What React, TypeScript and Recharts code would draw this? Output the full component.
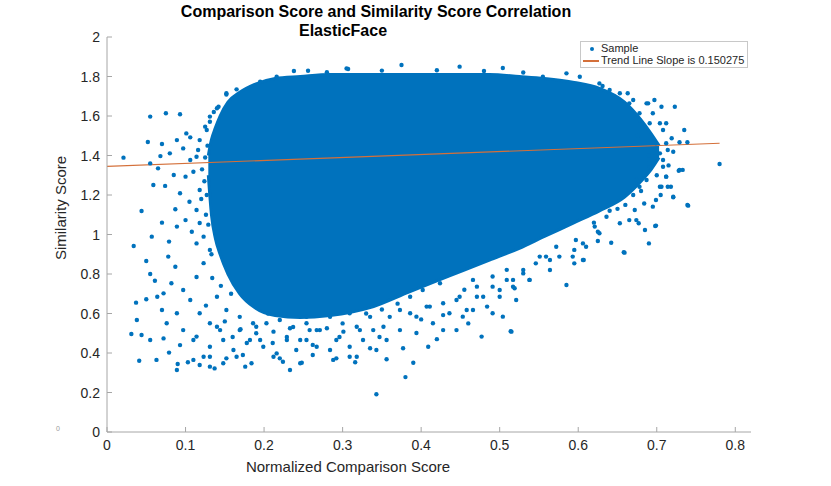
import { ComposedChart, Area, Scatter, Line, XAxis, YAxis } from 'recharts'

const blobX = [0.129, 0.133, 0.138, 0.144, 0.154, 0.169, 0.188, 0.214, 0.246, 0.284, 0.335, 0.385, 0.436, 0.487, 0.525, 0.557, 0.595, 0.627, 0.659, 0.68, 0.693, 0.703]
const blobLow = [1.3, 1.1, 0.98, 0.9, 0.8, 0.7, 0.63, 0.59, 0.58, 0.59, 0.63, 0.71, 0.79, 0.87, 0.93, 0.99, 1.06, 1.12, 1.19, 1.27, 1.33, 1.39]
const blobHigh = [1.4, 1.48, 1.54, 1.6, 1.67, 1.72, 1.76, 1.79, 1.8, 1.81, 1.81, 1.81, 1.81, 1.81, 1.8, 1.79, 1.77, 1.74, 1.67, 1.58, 1.51, 1.45]

const leftSamples: [number, number][] = [
  [0.021, 1.389], [0.055, 1.597], [0.075, 1.614], [0.093, 1.609], [0.052, 1.468], [0.07, 1.458],
  [0.089, 1.478], [0.055, 1.36], [0.065, 1.335], [0.068, 1.397], [0.08, 1.411], [0.059, 1.251],
  [0.074, 1.246], [0.085, 1.301], [0.044, 1.119], [0.07, 1.06], [0.057, 0.989], [0.034, 0.942],
  [0.079, 0.964], [0.089, 1.04], [0.087, 1.128], [0.093, 1.209], [0.101, 1.512], [0.106, 1.492],
  [0.097, 1.436], [0.106, 1.377], [0.1, 1.293], [0.11, 1.318], [0.105, 1.166], [0.1, 1.073],
  [0.114, 1.124], [0.108, 1.014], [0.118, 1.225], [0.116, 1.428], [0.127, 1.529], [0.131, 1.571],
  [0.14, 1.639], [0.152, 1.715], [0.165, 1.735], [0.118, 1.058], [0.123, 0.989], [0.114, 0.955],
  [0.152, 1.709], [0.142, 1.647], [0.131, 1.597], [0.125, 1.546], [0.118, 1.478], [0.114, 1.394],
  [0.195, 1.774], [0.216, 1.799], [0.121, 1.33], [0.124, 1.27], [0.12, 1.18], [0.126, 1.1],
  [0.128, 1.45], [0.125, 1.39], [0.127, 1.2], [0.129, 1.05], [0.133, 0.9], [0.136, 1.62],
]

const lowerLeftSamples: [number, number][] = [
  [0.05, 0.866], [0.055, 0.8], [0.061, 0.766], [0.078, 0.888], [0.037, 0.655], [0.05, 0.672],
  [0.038, 0.567], [0.031, 0.496], [0.044, 0.491], [0.055, 0.466], [0.041, 0.361], [0.063, 0.365],
  [0.064, 0.685], [0.072, 0.702], [0.07, 0.618], [0.076, 0.551], [0.072, 0.474], [0.079, 0.402],
  [0.089, 0.314], [0.09, 0.344], [0.103, 0.353], [0.118, 0.339], [0.131, 0.331], [0.137, 0.322],
  [0.093, 0.44], [0.087, 0.837], [0.082, 0.753], [0.089, 0.601], [0.097, 0.516], [0.11, 0.466],
  [0.131, 0.381], [0.152, 0.373], [0.165, 0.381], [0.176, 0.331], [0.184, 0.348], [0.233, 0.314],
  [0.246, 0.348], [0.212, 0.381], [0.22, 0.373], [0.097, 0.719], [0.106, 0.668], [0.118, 0.601],
  [0.131, 0.551], [0.144, 0.516], [0.16, 0.481], [0.178, 0.451], [0.195, 0.466], [0.211, 0.451],
  [0.229, 0.481], [0.246, 0.466], [0.262, 0.441], [0.114, 0.785], [0.123, 0.855], [0.131, 0.922],
  [0.14, 0.685], [0.152, 0.618], [0.169, 0.583], [0.186, 0.551], [0.203, 0.551], [0.22, 0.567],
  [0.237, 0.532], [0.254, 0.551], [0.267, 0.516], [0.134, 0.78], [0.145, 0.74], [0.158, 0.7],
  [0.126, 0.64], [0.15, 0.56], [0.17, 0.52], [0.19, 0.5], [0.205, 0.6], [0.226, 0.6],
  [0.114, 0.483], [0.131, 0.432], [0.123, 0.381], [0.148, 0.466], [0.161, 0.415], [0.173, 0.39],
  [0.182, 0.466], [0.199, 0.432], [0.216, 0.398], [0.229, 0.466], [0.241, 0.415], [0.254, 0.466],
  [0.267, 0.432], [0.284, 0.415], [0.292, 0.466], [0.309, 0.432], [0.326, 0.466], [0.343, 0.415],
  [0.356, 0.466], [0.14, 0.533], [0.169, 0.516], [0.19, 0.533], [0.212, 0.508], [0.233, 0.525],
  [0.258, 0.516], [0.28, 0.525], [0.301, 0.508], [0.318, 0.533], [0.339, 0.516], [0.352, 0.533],
  [0.11, 0.365], [0.148, 0.348], [0.224, 0.356], [0.292, 0.373], [0.318, 0.381],
]

const lowerMidSamples: [number, number][] = [
  [0.343, 0.191], [0.38, 0.278], [0.39, 0.351], [0.288, 0.365], [0.316, 0.353], [0.356, 0.368],
  [0.248, 0.351], [0.477, 0.483], [0.514, 0.51], [0.521, 0.668], [0.262, 0.39], [0.309, 0.381],
  [0.335, 0.424], [0.377, 0.424], [0.409, 0.432], [0.445, 0.516], [0.453, 0.584], [0.504, 0.584],
  [0.491, 0.601], [0.271, 0.516], [0.296, 0.481], [0.322, 0.516], [0.347, 0.481], [0.373, 0.516],
  [0.394, 0.501], [0.415, 0.551], [0.428, 0.516], [0.436, 0.601], [0.466, 0.618], [0.479, 0.685],
  [0.5, 0.719], [0.517, 0.77], [0.254, 0.583], [0.284, 0.583], [0.309, 0.601], [0.335, 0.583],
  [0.36, 0.583], [0.386, 0.601], [0.407, 0.635], [0.428, 0.652], [0.449, 0.685], [0.471, 0.736],
  [0.491, 0.787], [0.509, 0.821], [0.3, 0.55], [0.4, 0.57], [0.42, 0.47], [0.46, 0.55],
  [0.373, 0.618], [0.394, 0.584], [0.411, 0.635], [0.428, 0.592], [0.445, 0.668], [0.458, 0.618],
  [0.471, 0.685], [0.484, 0.635], [0.491, 0.736], [0.5, 0.685], [0.509, 0.77], [0.517, 0.736],
  [0.53, 0.803], [0.538, 0.77], [0.546, 0.854], [0.559, 0.888], [0.564, 0.82], [0.572, 0.938],
  [0.593, 0.888], [0.606, 0.871], [0.597, 0.972], [0.402, 0.719], [0.386, 0.685], [0.424, 0.753],
  [0.466, 0.77], [0.364, 0.702], [0.37, 0.65], [0.35, 0.62], [0.33, 0.6], [0.455, 0.72],
]

const rightSamples: [number, number][] = [
  [0.585, 1.816], [0.723, 1.647], [0.735, 1.529], [0.78, 1.357], [0.74, 1.146], [0.733, 1.327],
  [0.728, 1.323], [0.721, 1.188], [0.698, 1.043], [0.69, 0.955], [0.659, 0.908], [0.585, 0.744],
  [0.515, 0.508], [0.642, 0.958], [0.607, 0.871], [0.595, 0.854], [0.625, 0.967],
  [0.685, 1.023], [0.674, 1.073], [0.653, 1.057], [0.719, 1.487], [0.712, 1.563], [0.706, 1.647],
  [0.697, 1.681], [0.687, 1.664], [0.718, 1.242], [0.712, 1.293], [0.708, 1.377], [0.714, 1.428],
  [0.706, 1.242], [0.699, 1.175], [0.684, 1.157], [0.672, 1.124], [0.636, 1.09], [0.625, 1.014],
  [0.606, 0.955], [0.595, 0.922], [0.576, 0.888], [0.564, 0.871], [0.551, 0.888], [0.538, 0.77],
  [0.53, 0.82], [0.519, 0.728], [0.674, 1.276], [0.691, 1.343], [0.699, 1.462], [0.691, 1.563],
  [0.678, 1.614], [0.665, 1.664], [0.653, 1.715], [0.64, 1.732], [0.627, 1.765], [0.602, 1.799],
  [0.555, 1.799], [0.69, 1.4], [0.7, 1.3], [0.68, 1.22], [0.66, 1.15], [0.64, 1.12], [0.62, 1.06],
  [0.631, 1.752], [0.663, 1.715], [0.67, 1.681], [0.689, 1.664], [0.695, 1.614], [0.704, 1.563],
  [0.708, 1.529], [0.712, 1.462], [0.729, 1.467], [0.739, 1.467], [0.704, 1.411], [0.721, 1.419],
  [0.708, 1.343], [0.729, 1.327], [0.712, 1.293], [0.704, 1.242], [0.714, 1.242], [0.721, 1.191],
  [0.695, 1.141], [0.739, 1.149], [0.699, 1.045], [0.677, 1.057], [0.665, 1.073], [0.658, 0.91],
  [0.627, 1.006], [0.621, 1.04], [0.61, 0.938], [0.678, 1.242], [0.687, 1.276], [0.691, 1.36],
  [0.678, 1.58], [0.67, 1.2], [0.65, 1.13], [0.705, 1.2], [0.715, 1.35], [0.676, 1.5],
]

const topSamples: [number, number][] = [
  [0.375, 1.858], [0.449, 1.85], [0.504, 1.843], [0.305, 1.841], [0.238, 1.828], [0.307, 1.838],
  [0.256, 1.829], [0.35, 1.83], [0.42, 1.832], [0.48, 1.828], [0.53, 1.82], [0.28, 1.822],
]

const trendX = [0, 0.78]
const trendY = [1.345, 1.462]

const xTicks = [0, 0.1, 0.2, 0.3, 0.4, 0.5, 0.6, 0.7, 0.8]
const yTicks = [0, 0.2, 0.4, 0.6, 0.8, 1, 1.2, 1.4, 1.6, 1.8, 2]

const BLUE = '#0072BD'
const ORANGE = '#D4703A'
const AXIS = '#a6a6a6'
const TEXT = '#262626'
const FONT = '"Liberation Sans", Arial, Helvetica, sans-serif'

const blobData = blobX.map((x, i) => ({ x, range: [blobLow[i], blobHigh[i]] }))
const sampleData = [...leftSamples, ...lowerLeftSamples, ...lowerMidSamples, ...rightSamples, ...topSamples].map(
  ([x, y]) => ({ x, y })
)
const trendData = trendX.map((x, i) => ({ x, y: trendY[i] }))

const XTick = (props: any) => {
  const { x, y, payload } = props
  return (
    <g>
      <line x1={x} x2={x} y1={y} y2={y - 5} stroke={AXIS} />
      <text x={x} y={y + 18} textAnchor="middle" fontSize={14} fill={TEXT} fontFamily={FONT}>
        {payload.value}
      </text>
    </g>
  )
}

const YTick = (props: any) => {
  const { x, y, payload } = props
  return (
    <g>
      <line x1={x} x2={x + 5} y1={y} y2={y} stroke={AXIS} />
      <text x={x - 7} y={y + 5} textAnchor="end" fontSize={14} fill={TEXT} fontFamily={FONT}>
        {payload.value}
      </text>
    </g>
  )
}

const Dot = (props: any) => <circle cx={props.cx} cy={props.cy} r={2.2} fill={BLUE} />

export default function App() {
  return (
    <div style={{ position: 'absolute', left: 0, top: 0, width: 831, height: 486, background: '#fff', fontFamily: FONT }}>
      <ComposedChart width={831} height={486} data={blobData} margin={{ top: 37, right: 80, bottom: 0, left: 57 }}>
        <XAxis
          dataKey="x"
          type="number"
          domain={[0, 0.82]}
          ticks={xTicks}
          allowDataOverflow
          height={54}
          stroke={AXIS}
          tickLine={false}
          tickSize={0}
          tickMargin={0}
          tick={<XTick />}
        />
        <YAxis
          type="number"
          domain={[0, 2]}
          ticks={yTicks}
          width={50}
          stroke={AXIS}
          tickLine={false}
          tickSize={0}
          tickMargin={0}
          tick={<YTick />}
        />
        <Area
          dataKey="range"
          type="monotone"
          fill={BLUE}
          fillOpacity={1}
          stroke={BLUE}
          strokeWidth={3}
          strokeLinejoin="round"
          isAnimationActive={false}
        />
        <Scatter data={sampleData} dataKey="y" shape={<Dot />} isAnimationActive={false} />
        <Line
          data={trendData}
          dataKey="y"
          stroke={ORANGE}
          strokeWidth={1.2}
          dot={false}
          isAnimationActive={false}
        />
      </ComposedChart>

      <div style={{ position: 'absolute', left: 0, width: 752, top: 3, textAlign: 'center', fontWeight: 'bold', fontSize: 16, color: '#000' }}>
        Comparison Score and Similarity Score Correlation
      </div>
      <div style={{ position: 'absolute', left: 0, width: 686, top: 22, textAlign: 'center', fontWeight: 'bold', fontSize: 16, color: '#000' }}>
        ElasticFace
      </div>
      <div style={{ position: 'absolute', left: 0, width: 696, top: 458, textAlign: 'center', fontSize: 15, color: TEXT }}>
        Normalized Comparison Score
      </div>
      <div
        style={{
          position: 'absolute',
          left: 60,
          top: 208,
          transform: 'translate(-50%, -50%) rotate(-90deg)',
          whiteSpace: 'nowrap',
          fontSize: 15,
          color: TEXT,
        }}
      >
        Similarity Score
      </div>
      <div style={{ position: 'absolute', left: 56, top: 425, fontSize: 7, color: '#999' }}>0</div>

      <div
        style={{
          position: 'absolute',
          left: 580,
          top: 41,
          width: 166,
          height: 25,
          border: '1px solid #c8c8c8',
          background: '#fff',
          fontSize: 11,
          color: TEXT,
        }}
      >
        <div style={{ position: 'absolute', left: 9, top: 5, width: 4, height: 4, borderRadius: 2, background: BLUE }} />
        <div style={{ position: 'absolute', left: 20, top: 0, lineHeight: '13px' }}>Sample</div>
        <div style={{ position: 'absolute', left: 2, top: 18, width: 16, height: 1.5, background: ORANGE }} />
        <div style={{ position: 'absolute', left: 20, top: 12, lineHeight: '13px', whiteSpace: 'nowrap' }}>
          Trend Line Slope is 0.150275
        </div>
      </div>
    </div>
  )
}
